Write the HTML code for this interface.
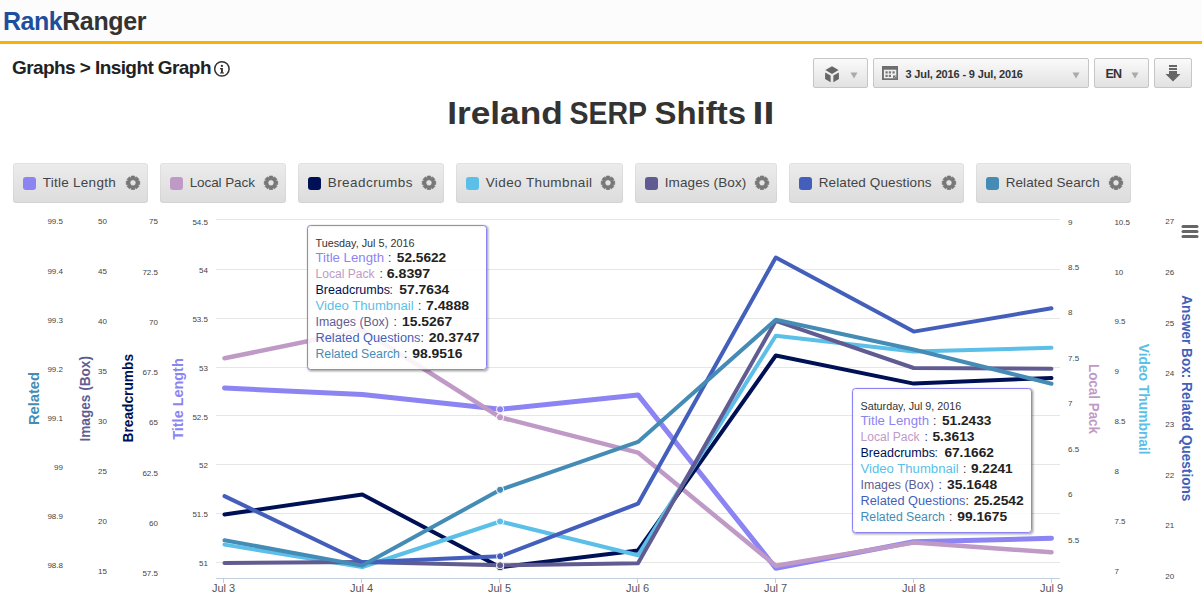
<!DOCTYPE html><html><head><meta charset="utf-8"><style>
*{box-sizing:border-box}html,body{margin:0;padding:0}
body{width:1202px;height:601px;overflow:hidden;background:#fff;position:relative;font-family:"Liberation Sans", sans-serif}
.abs{position:absolute}
.btn{position:absolute;border:1px solid #c6c6c6;border-radius:2px;background:linear-gradient(#fafafa,#e2e2e2)}
.leg{position:absolute;top:163px;height:40px;border-radius:3px;background:linear-gradient(#ececec,#dcdcdc);box-shadow:inset 0 0 0 1px rgba(0,0,0,0.04)}
.sw{position:absolute;top:13.5px;left:10px;width:13px;height:13.5px;border-radius:3px}
.lt{position:absolute;top:11px;left:29.7px;font-size:13.5px;color:#444;white-space:nowrap;line-height:18px}
</style></head><body>
<div class="abs" style="left:0;top:0;width:1202px;height:41px;background:#fcfcfc"></div>
<div class="abs" style="left:0;top:41px;width:1202px;height:3px;background:#fcb000"></div>
<div class="abs" style="left:3px;top:4px;font-size:25px;font-weight:bold;line-height:34px;white-space:nowrap"><span style="color:#1d4f9c;letter-spacing:-0.5px">Rank</span><span style="color:#333;letter-spacing:-0.35px">Ranger</span></div>
<div class="abs" style="left:12px;top:56px;font-size:19px;font-weight:bold;letter-spacing:-0.58px;color:#222;line-height:24px;white-space:nowrap">Graphs &gt; Insight Graph</div>
<svg class="abs" style="left:212px;top:59px" width="20" height="20" viewBox="0 0 20 20"><circle cx="9.9" cy="9.9" r="7.2" fill="none" stroke="#333" stroke-width="1.5"/><circle cx="9.9" cy="6.9" r="1.15" fill="#333"/><path d="M8 9.1h2.9v4.3h1.1v1.1h-4.1v-1.1h1.1v-3.2h-1z" fill="#333"/></svg>
<div class="btn" style="left:813px;top:58px;width:55px;height:30px"></div>
<div class="btn" style="left:873px;top:58px;width:216px;height:30px"></div>
<div class="btn" style="left:1094px;top:58px;width:55px;height:30px"></div>
<div class="btn" style="left:1154px;top:58px;width:38px;height:30px"></div>
<svg class="abs" style="left:824px;top:65px" width="16" height="18" viewBox="0 0 16 18"><path d="M8 1.2L14.6 5.1 8 8.9 1.4 5.1z" fill="#666"/><path d="M1.1 7.4L6.6 10.5V17.2L1.1 14.1z" fill="#666"/><path d="M14.9 7.4L9.4 10.5V17.2L14.9 14.1z" fill="#666"/></svg>
<svg class="abs" style="left:849.5px;top:71.5px" width="8" height="7" viewBox="0 0 8 7"><path d="M0.5 0.5h7l-3.5 6z" fill="#aaa"/></svg>
<svg class="abs" style="left:1071.5px;top:71.5px" width="8" height="7" viewBox="0 0 8 7"><path d="M0.5 0.5h7l-3.5 6z" fill="#aaa"/></svg>
<svg class="abs" style="left:1130.5px;top:72px" width="8" height="7" viewBox="0 0 8 7"><path d="M0.5 0.5h7l-3.5 6z" fill="#aaa"/></svg>
<svg class="abs" style="left:882px;top:66px" width="16" height="14" viewBox="0 0 16 14"><rect x="0" y="0" width="16" height="14" fill="#6e6e6e"/><rect x="1.9" y="3.7" width="12.4" height="8.6" fill="#efefef"/><g fill="#777"><rect x="3.5" y="5.3" width="2.2" height="2.2"/><rect x="6.8" y="5.3" width="2.2" height="2.2"/><rect x="10.5" y="5.3" width="2.2" height="2.2"/><rect x="3.5" y="8.8" width="2.2" height="2.2"/><rect x="6.8" y="8.8" width="2.2" height="2.2"/></g><rect x="11" y="9.5" width="3.3" height="2.8" fill="#6e6e6e"/><path d="M12.3 11.6l1.3-1.3" stroke="#eee" stroke-width="0.9"/></svg>
<div class="abs" style="left:905.5px;top:67px;font-size:11px;font-weight:bold;letter-spacing:-0.15px;color:#333;line-height:14px;white-space:nowrap">3 Jul, 2016 - 9 Jul, 2016</div>
<div class="abs" style="left:1105.5px;top:66.5px;font-size:12.5px;font-weight:bold;letter-spacing:-0.9px;color:#333;line-height:14px;white-space:nowrap">EN</div>
<svg class="abs" style="left:1165px;top:64px" width="16" height="18" viewBox="0 0 16 18"><rect x="4" y="1" width="8" height="2" fill="#666"/><rect x="4" y="4" width="8" height="2" fill="#666"/><path d="M4 7h8v3h3.5L8 17.5 0.5 10H4z" fill="#666"/></svg>
<svg class="abs" style="left:0;top:0" width="1202" height="140"><text x="447.2" y="123.7" font-size="32" font-weight="bold" fill="#333" textLength="115.6" lengthAdjust="spacingAndGlyphs" font-family='"Liberation Sans", sans-serif'>Ireland</text><text x="569.5" y="123.7" font-size="32" font-weight="bold" fill="#333" textLength="77.6" lengthAdjust="spacingAndGlyphs" font-family='"Liberation Sans", sans-serif'>SERP</text><text x="654.5" y="123.7" font-size="32" font-weight="bold" fill="#333" textLength="91.5" lengthAdjust="spacingAndGlyphs" font-family='"Liberation Sans", sans-serif'>Shifts</text><text x="752.5" y="123.7" font-size="32" font-weight="bold" fill="#333" textLength="21.8" lengthAdjust="spacingAndGlyphs" font-family='"Liberation Sans", sans-serif'>II</text></svg>
<div class="leg" style="left:13px;width:135px">
<div class="sw" style="background:#8c84f2"></div>
<div class="lt" style="letter-spacing:0.27px">Title Length</div>
<svg class="abs" style="left:110.9px;top:11px" width="18" height="18" viewBox="0 0 18 18"><path d="M13.61 6.85 L15.70 7.16 L15.70 10.44 L13.61 10.75 L13.63 10.68 L14.90 12.38 L12.58 14.70 L10.88 13.43 L10.95 13.41 L10.64 15.50 L7.36 15.50 L7.05 13.41 L7.12 13.43 L5.42 14.70 L3.10 12.38 L4.37 10.68 L4.39 10.75 L2.30 10.44 L2.30 7.16 L4.39 6.85 L4.37 6.92 L3.10 5.22 L5.42 2.90 L7.12 4.17 L7.05 4.19 L7.36 2.10 L10.64 2.10 L10.95 4.19 L10.88 4.17 L12.58 2.90 L14.90 5.22 L13.63 6.92Z M12.10 8.80 A3.1 3.1 0 1 0 5.90 8.80 A3.1 3.1 0 1 0 12.10 8.80Z" fill="#777" fill-rule="evenodd" stroke="#777" stroke-width="0.8" stroke-linejoin="round"/></svg>
</div>
<div class="leg" style="left:160px;width:126px">
<div class="sw" style="background:#c09ac6"></div>
<div class="lt" style="letter-spacing:-0.09px">Local Pack</div>
<svg class="abs" style="left:101.9px;top:11px" width="18" height="18" viewBox="0 0 18 18"><path d="M13.61 6.85 L15.70 7.16 L15.70 10.44 L13.61 10.75 L13.63 10.68 L14.90 12.38 L12.58 14.70 L10.88 13.43 L10.95 13.41 L10.64 15.50 L7.36 15.50 L7.05 13.41 L7.12 13.43 L5.42 14.70 L3.10 12.38 L4.37 10.68 L4.39 10.75 L2.30 10.44 L2.30 7.16 L4.39 6.85 L4.37 6.92 L3.10 5.22 L5.42 2.90 L7.12 4.17 L7.05 4.19 L7.36 2.10 L10.64 2.10 L10.95 4.19 L10.88 4.17 L12.58 2.90 L14.90 5.22 L13.63 6.92Z M12.10 8.80 A3.1 3.1 0 1 0 5.90 8.80 A3.1 3.1 0 1 0 12.10 8.80Z" fill="#777" fill-rule="evenodd" stroke="#777" stroke-width="0.8" stroke-linejoin="round"/></svg>
</div>
<div class="leg" style="left:298px;width:146px">
<div class="sw" style="background:#001055"></div>
<div class="lt" style="letter-spacing:0.45px">Breadcrumbs</div>
<svg class="abs" style="left:121.9px;top:11px" width="18" height="18" viewBox="0 0 18 18"><path d="M13.61 6.85 L15.70 7.16 L15.70 10.44 L13.61 10.75 L13.63 10.68 L14.90 12.38 L12.58 14.70 L10.88 13.43 L10.95 13.41 L10.64 15.50 L7.36 15.50 L7.05 13.41 L7.12 13.43 L5.42 14.70 L3.10 12.38 L4.37 10.68 L4.39 10.75 L2.30 10.44 L2.30 7.16 L4.39 6.85 L4.37 6.92 L3.10 5.22 L5.42 2.90 L7.12 4.17 L7.05 4.19 L7.36 2.10 L10.64 2.10 L10.95 4.19 L10.88 4.17 L12.58 2.90 L14.90 5.22 L13.63 6.92Z M12.10 8.80 A3.1 3.1 0 1 0 5.90 8.80 A3.1 3.1 0 1 0 12.10 8.80Z" fill="#777" fill-rule="evenodd" stroke="#777" stroke-width="0.8" stroke-linejoin="round"/></svg>
</div>
<div class="leg" style="left:456px;width:167px">
<div class="sw" style="background:#5bbfe8"></div>
<div class="lt" style="letter-spacing:0.4px">Video Thumbnail</div>
<svg class="abs" style="left:142.9px;top:11px" width="18" height="18" viewBox="0 0 18 18"><path d="M13.61 6.85 L15.70 7.16 L15.70 10.44 L13.61 10.75 L13.63 10.68 L14.90 12.38 L12.58 14.70 L10.88 13.43 L10.95 13.41 L10.64 15.50 L7.36 15.50 L7.05 13.41 L7.12 13.43 L5.42 14.70 L3.10 12.38 L4.37 10.68 L4.39 10.75 L2.30 10.44 L2.30 7.16 L4.39 6.85 L4.37 6.92 L3.10 5.22 L5.42 2.90 L7.12 4.17 L7.05 4.19 L7.36 2.10 L10.64 2.10 L10.95 4.19 L10.88 4.17 L12.58 2.90 L14.90 5.22 L13.63 6.92Z M12.10 8.80 A3.1 3.1 0 1 0 5.90 8.80 A3.1 3.1 0 1 0 12.10 8.80Z" fill="#777" fill-rule="evenodd" stroke="#777" stroke-width="0.8" stroke-linejoin="round"/></svg>
</div>
<div class="leg" style="left:635px;width:142px">
<div class="sw" style="background:#605c92"></div>
<div class="lt" style="letter-spacing:0.12px">Images (Box)</div>
<svg class="abs" style="left:117.9px;top:11px" width="18" height="18" viewBox="0 0 18 18"><path d="M13.61 6.85 L15.70 7.16 L15.70 10.44 L13.61 10.75 L13.63 10.68 L14.90 12.38 L12.58 14.70 L10.88 13.43 L10.95 13.41 L10.64 15.50 L7.36 15.50 L7.05 13.41 L7.12 13.43 L5.42 14.70 L3.10 12.38 L4.37 10.68 L4.39 10.75 L2.30 10.44 L2.30 7.16 L4.39 6.85 L4.37 6.92 L3.10 5.22 L5.42 2.90 L7.12 4.17 L7.05 4.19 L7.36 2.10 L10.64 2.10 L10.95 4.19 L10.88 4.17 L12.58 2.90 L14.90 5.22 L13.63 6.92Z M12.10 8.80 A3.1 3.1 0 1 0 5.90 8.80 A3.1 3.1 0 1 0 12.10 8.80Z" fill="#777" fill-rule="evenodd" stroke="#777" stroke-width="0.8" stroke-linejoin="round"/></svg>
</div>
<div class="leg" style="left:789px;width:175px">
<div class="sw" style="background:#435fbb"></div>
<div class="lt" style="letter-spacing:0.11px">Related Questions</div>
<svg class="abs" style="left:150.9px;top:11px" width="18" height="18" viewBox="0 0 18 18"><path d="M13.61 6.85 L15.70 7.16 L15.70 10.44 L13.61 10.75 L13.63 10.68 L14.90 12.38 L12.58 14.70 L10.88 13.43 L10.95 13.41 L10.64 15.50 L7.36 15.50 L7.05 13.41 L7.12 13.43 L5.42 14.70 L3.10 12.38 L4.37 10.68 L4.39 10.75 L2.30 10.44 L2.30 7.16 L4.39 6.85 L4.37 6.92 L3.10 5.22 L5.42 2.90 L7.12 4.17 L7.05 4.19 L7.36 2.10 L10.64 2.10 L10.95 4.19 L10.88 4.17 L12.58 2.90 L14.90 5.22 L13.63 6.92Z M12.10 8.80 A3.1 3.1 0 1 0 5.90 8.80 A3.1 3.1 0 1 0 12.10 8.80Z" fill="#777" fill-rule="evenodd" stroke="#777" stroke-width="0.8" stroke-linejoin="round"/></svg>
</div>
<div class="leg" style="left:976px;width:155px">
<div class="sw" style="background:#448cb5"></div>
<div class="lt" style="letter-spacing:0.07px">Related Search</div>
<svg class="abs" style="left:130.9px;top:11px" width="18" height="18" viewBox="0 0 18 18"><path d="M13.61 6.85 L15.70 7.16 L15.70 10.44 L13.61 10.75 L13.63 10.68 L14.90 12.38 L12.58 14.70 L10.88 13.43 L10.95 13.41 L10.64 15.50 L7.36 15.50 L7.05 13.41 L7.12 13.43 L5.42 14.70 L3.10 12.38 L4.37 10.68 L4.39 10.75 L2.30 10.44 L2.30 7.16 L4.39 6.85 L4.37 6.92 L3.10 5.22 L5.42 2.90 L7.12 4.17 L7.05 4.19 L7.36 2.10 L10.64 2.10 L10.95 4.19 L10.88 4.17 L12.58 2.90 L14.90 5.22 L13.63 6.92Z M12.10 8.80 A3.1 3.1 0 1 0 5.90 8.80 A3.1 3.1 0 1 0 12.10 8.80Z" fill="#777" fill-rule="evenodd" stroke="#777" stroke-width="0.8" stroke-linejoin="round"/></svg>
</div>
<svg class="abs" style="left:0;top:0" width="1202" height="601" viewBox="0 0 1202 601"><rect x="216" y="219" width="844" height="1" fill="#e6e6e6"/><rect x="216" y="269" width="844" height="1" fill="#e6e6e6"/><rect x="216" y="318" width="844" height="1" fill="#e6e6e6"/><rect x="216" y="367" width="844" height="1" fill="#e6e6e6"/><rect x="216" y="415" width="844" height="1" fill="#e6e6e6"/><rect x="216" y="464" width="844" height="1" fill="#e6e6e6"/><rect x="216" y="513" width="844" height="1" fill="#e6e6e6"/><rect x="216" y="562" width="844" height="1" fill="#e6e6e6"/><rect x="216" y="578" width="844" height="1" fill="#c0d0e0"/><rect x="223" y="578" width="1" height="5" fill="#c0d0e0"/><text x="223.5" y="592.3" font-size="11" fill="#555" text-anchor="middle" font-family='"Liberation Sans", sans-serif'>Jul 3</text><rect x="361" y="578" width="1" height="5" fill="#c0d0e0"/><text x="361.5" y="592.3" font-size="11" fill="#555" text-anchor="middle" font-family='"Liberation Sans", sans-serif'>Jul 4</text><rect x="499" y="578" width="1" height="5" fill="#c0d0e0"/><text x="499.5" y="592.3" font-size="11" fill="#555" text-anchor="middle" font-family='"Liberation Sans", sans-serif'>Jul 5</text><rect x="637" y="578" width="1" height="5" fill="#c0d0e0"/><text x="637.5" y="592.3" font-size="11" fill="#555" text-anchor="middle" font-family='"Liberation Sans", sans-serif'>Jul 6</text><rect x="775" y="578" width="1" height="5" fill="#c0d0e0"/><text x="775.5" y="592.3" font-size="11" fill="#555" text-anchor="middle" font-family='"Liberation Sans", sans-serif'>Jul 7</text><rect x="913" y="578" width="1" height="5" fill="#c0d0e0"/><text x="913.5" y="592.3" font-size="11" fill="#555" text-anchor="middle" font-family='"Liberation Sans", sans-serif'>Jul 8</text><rect x="1051" y="578" width="1" height="5" fill="#c0d0e0"/><text x="1051.5" y="592.3" font-size="11" fill="#555" text-anchor="middle" font-family='"Liberation Sans", sans-serif'>Jul 9</text><text x="63" y="224.4" font-size="8" fill="#444" text-anchor="end" font-family='"Liberation Sans", sans-serif'>99.5</text><text x="63" y="273.5" font-size="8" fill="#444" text-anchor="end" font-family='"Liberation Sans", sans-serif'>99.4</text><text x="63" y="322.6" font-size="8" fill="#444" text-anchor="end" font-family='"Liberation Sans", sans-serif'>99.3</text><text x="63" y="371.7" font-size="8" fill="#444" text-anchor="end" font-family='"Liberation Sans", sans-serif'>99.2</text><text x="63" y="420.7" font-size="8" fill="#444" text-anchor="end" font-family='"Liberation Sans", sans-serif'>99.1</text><text x="63" y="469.8" font-size="8" fill="#444" text-anchor="end" font-family='"Liberation Sans", sans-serif'>99</text><text x="63" y="518.9" font-size="8" fill="#444" text-anchor="end" font-family='"Liberation Sans", sans-serif'>98.9</text><text x="63" y="568.0" font-size="8" fill="#444" text-anchor="end" font-family='"Liberation Sans", sans-serif'>98.8</text><text x="107" y="224.4" font-size="8" fill="#444" text-anchor="end" font-family='"Liberation Sans", sans-serif'>50</text><text x="107" y="274.3" font-size="8" fill="#444" text-anchor="end" font-family='"Liberation Sans", sans-serif'>45</text><text x="107" y="324.3" font-size="8" fill="#444" text-anchor="end" font-family='"Liberation Sans", sans-serif'>40</text><text x="107" y="374.2" font-size="8" fill="#444" text-anchor="end" font-family='"Liberation Sans", sans-serif'>35</text><text x="107" y="424.2" font-size="8" fill="#444" text-anchor="end" font-family='"Liberation Sans", sans-serif'>30</text><text x="107" y="474.1" font-size="8" fill="#444" text-anchor="end" font-family='"Liberation Sans", sans-serif'>25</text><text x="107" y="524.1" font-size="8" fill="#444" text-anchor="end" font-family='"Liberation Sans", sans-serif'>20</text><text x="107" y="574.0" font-size="8" fill="#444" text-anchor="end" font-family='"Liberation Sans", sans-serif'>15</text><text x="158" y="224.4" font-size="8" fill="#444" text-anchor="end" font-family='"Liberation Sans", sans-serif'>75</text><text x="158" y="274.6" font-size="8" fill="#444" text-anchor="end" font-family='"Liberation Sans", sans-serif'>72.5</text><text x="158" y="324.9" font-size="8" fill="#444" text-anchor="end" font-family='"Liberation Sans", sans-serif'>70</text><text x="158" y="375.1" font-size="8" fill="#444" text-anchor="end" font-family='"Liberation Sans", sans-serif'>67.5</text><text x="158" y="425.3" font-size="8" fill="#444" text-anchor="end" font-family='"Liberation Sans", sans-serif'>65</text><text x="158" y="475.5" font-size="8" fill="#444" text-anchor="end" font-family='"Liberation Sans", sans-serif'>62.5</text><text x="158" y="525.8" font-size="8" fill="#444" text-anchor="end" font-family='"Liberation Sans", sans-serif'>60</text><text x="158" y="576.0" font-size="8" fill="#444" text-anchor="end" font-family='"Liberation Sans", sans-serif'>57.5</text><text x="208" y="224.5" font-size="8" fill="#444" text-anchor="end" font-family='"Liberation Sans", sans-serif'>54.5</text><text x="208" y="273.3" font-size="8" fill="#444" text-anchor="end" font-family='"Liberation Sans", sans-serif'>54</text><text x="208" y="322.1" font-size="8" fill="#444" text-anchor="end" font-family='"Liberation Sans", sans-serif'>53.5</text><text x="208" y="370.9" font-size="8" fill="#444" text-anchor="end" font-family='"Liberation Sans", sans-serif'>53</text><text x="208" y="419.6" font-size="8" fill="#444" text-anchor="end" font-family='"Liberation Sans", sans-serif'>52.5</text><text x="208" y="468.4" font-size="8" fill="#444" text-anchor="end" font-family='"Liberation Sans", sans-serif'>52</text><text x="208" y="517.2" font-size="8" fill="#444" text-anchor="end" font-family='"Liberation Sans", sans-serif'>51.5</text><text x="208" y="566.0" font-size="8" fill="#444" text-anchor="end" font-family='"Liberation Sans", sans-serif'>51</text><text x="1068" y="224.5" font-size="8" fill="#444" text-anchor="start" font-family='"Liberation Sans", sans-serif'>9</text><text x="1068" y="270.0" font-size="8" fill="#444" text-anchor="start" font-family='"Liberation Sans", sans-serif'>8.5</text><text x="1068" y="315.4" font-size="8" fill="#444" text-anchor="start" font-family='"Liberation Sans", sans-serif'>8</text><text x="1068" y="360.9" font-size="8" fill="#444" text-anchor="start" font-family='"Liberation Sans", sans-serif'>7.5</text><text x="1068" y="406.4" font-size="8" fill="#444" text-anchor="start" font-family='"Liberation Sans", sans-serif'>7</text><text x="1068" y="451.9" font-size="8" fill="#444" text-anchor="start" font-family='"Liberation Sans", sans-serif'>6.5</text><text x="1068" y="497.3" font-size="8" fill="#444" text-anchor="start" font-family='"Liberation Sans", sans-serif'>6</text><text x="1068" y="542.8" font-size="8" fill="#444" text-anchor="start" font-family='"Liberation Sans", sans-serif'>5.5</text><text x="1114.4" y="224.5" font-size="8" fill="#444" text-anchor="start" font-family='"Liberation Sans", sans-serif'>10.5</text><text x="1114.4" y="274.5" font-size="8" fill="#444" text-anchor="start" font-family='"Liberation Sans", sans-serif'>10</text><text x="1114.4" y="324.4" font-size="8" fill="#444" text-anchor="start" font-family='"Liberation Sans", sans-serif'>9.5</text><text x="1114.4" y="374.4" font-size="8" fill="#444" text-anchor="start" font-family='"Liberation Sans", sans-serif'>9</text><text x="1114.4" y="424.4" font-size="8" fill="#444" text-anchor="start" font-family='"Liberation Sans", sans-serif'>8.5</text><text x="1114.4" y="474.4" font-size="8" fill="#444" text-anchor="start" font-family='"Liberation Sans", sans-serif'>8</text><text x="1114.4" y="524.3" font-size="8" fill="#444" text-anchor="start" font-family='"Liberation Sans", sans-serif'>7.5</text><text x="1114.4" y="574.3" font-size="8" fill="#444" text-anchor="start" font-family='"Liberation Sans", sans-serif'>7</text><text x="1165.3" y="224.2" font-size="8" fill="#444" text-anchor="start" font-family='"Liberation Sans", sans-serif'>27</text><text x="1165.3" y="274.9" font-size="8" fill="#444" text-anchor="start" font-family='"Liberation Sans", sans-serif'>26</text><text x="1165.3" y="325.6" font-size="8" fill="#444" text-anchor="start" font-family='"Liberation Sans", sans-serif'>25</text><text x="1165.3" y="376.3" font-size="8" fill="#444" text-anchor="start" font-family='"Liberation Sans", sans-serif'>24</text><text x="1165.3" y="426.9" font-size="8" fill="#444" text-anchor="start" font-family='"Liberation Sans", sans-serif'>23</text><text x="1165.3" y="477.6" font-size="8" fill="#444" text-anchor="start" font-family='"Liberation Sans", sans-serif'>22</text><text x="1165.3" y="528.3" font-size="8" fill="#444" text-anchor="start" font-family='"Liberation Sans", sans-serif'>21</text><text x="1165.3" y="579.0" font-size="8" fill="#444" text-anchor="start" font-family='"Liberation Sans", sans-serif'>20</text><text x="0" y="0" transform="translate(38.5 398.6) rotate(-90)" font-size="14" font-weight="bold" fill="#448cb5" text-anchor="middle" textLength="53" lengthAdjust="spacingAndGlyphs" font-family='"Liberation Sans", sans-serif'>Related</text><text x="0" y="0" transform="translate(89.5 398.8) rotate(-90)" font-size="14" font-weight="bold" fill="#605c92" text-anchor="middle" textLength="85.5" lengthAdjust="spacingAndGlyphs" font-family='"Liberation Sans", sans-serif'>Images (Box)</text><text x="0" y="0" transform="translate(133 398.2) rotate(-90)" font-size="14" font-weight="bold" fill="#001055" text-anchor="middle" textLength="88.5" lengthAdjust="spacingAndGlyphs" font-family='"Liberation Sans", sans-serif'>Breadcrumbs</text><text x="0" y="0" transform="translate(183 399) rotate(-90)" font-size="14" font-weight="bold" fill="#8c84f2" text-anchor="middle" textLength="81.5" lengthAdjust="spacingAndGlyphs" font-family='"Liberation Sans", sans-serif'>Title Length</text><text x="0" y="0" transform="translate(1088.5 399) rotate(90)" font-size="14" font-weight="bold" fill="#c09ac6" text-anchor="middle" textLength="70" lengthAdjust="spacingAndGlyphs" font-family='"Liberation Sans", sans-serif'>Local Pack</text><text x="0" y="0" transform="translate(1139.2 399.2) rotate(90)" font-size="14" font-weight="bold" fill="#5bbfe8" text-anchor="middle" textLength="111" lengthAdjust="spacingAndGlyphs" font-family='"Liberation Sans", sans-serif'>Video Thumbnail</text><text x="0" y="0" transform="translate(1182 398.3) rotate(90)" font-size="14" font-weight="bold" fill="#435fbb" text-anchor="middle" textLength="206" lengthAdjust="spacingAndGlyphs" font-family='"Liberation Sans", sans-serif'>Answer Box: Related Questions</text><polyline points="224.5,388.0 362.3,394.5 500.2,409.3 638.0,394.9 775.8,568.2 913.7,541.8 1051.5,538.3" fill="none" stroke="#8c84f2" stroke-width="5" stroke-linejoin="round" stroke-linecap="round"/><polyline points="224.5,358.3 362.3,330.0 500.2,417.3 638.0,452.6 775.8,565.7 913.7,542.6 1051.5,552.3" fill="none" stroke="#c09ac6" stroke-width="4.5" stroke-linejoin="round" stroke-linecap="round"/><polyline points="224.5,514.4 362.3,494.6 500.2,567.2 638.0,550.5 775.8,355.5 913.7,383.6 1051.5,377.9" fill="none" stroke="#001055" stroke-width="4" stroke-linejoin="round" stroke-linecap="round"/><polyline points="224.5,544.6 362.3,567.0 500.2,521.5 638.0,555.3 775.8,335.7 913.7,351.5 1051.5,347.8" fill="none" stroke="#5bbfe8" stroke-width="4" stroke-linejoin="round" stroke-linecap="round"/><polyline points="224.5,562.9 362.3,562.0 500.2,565.3 638.0,563.3 775.8,320.8 913.7,368.0 1051.5,368.8" fill="none" stroke="#605c92" stroke-width="4" stroke-linejoin="round" stroke-linecap="round"/><polyline points="224.5,496.1 362.3,562.3 500.2,556.3 638.0,503.7 775.8,257.5 913.7,331.6 1051.5,308.3" fill="none" stroke="#435fbb" stroke-width="4" stroke-linejoin="round" stroke-linecap="round"/><polyline points="224.5,540.2 362.3,565.6 500.2,489.8 638.0,441.9 775.8,319.8 913.7,349.5 1051.5,383.7" fill="none" stroke="#448cb5" stroke-width="4" stroke-linejoin="round" stroke-linecap="round"/><circle cx="500.1" cy="409.3" r="3.6" fill="#8c84f2" stroke="#fff" stroke-width="1"/><circle cx="500.1" cy="417.3" r="3.6" fill="#c09ac6" stroke="#fff" stroke-width="1"/><circle cx="500.1" cy="567.2" r="3.6" fill="#001055" stroke="#fff" stroke-width="1"/><circle cx="500.1" cy="521.5" r="3.6" fill="#5bbfe8" stroke="#fff" stroke-width="1"/><circle cx="500.1" cy="565.3" r="3.6" fill="#605c92" stroke="#fff" stroke-width="1"/><circle cx="500.1" cy="556.3" r="3.6" fill="#435fbb" stroke="#fff" stroke-width="1"/><circle cx="500.1" cy="489.8" r="3.6" fill="#448cb5" stroke="#fff" stroke-width="1"/><line x1="1183" y1="226.5" x2="1197" y2="226.5" stroke="#666" stroke-width="3" stroke-linecap="round"/><line x1="1183" y1="231.5" x2="1197" y2="231.5" stroke="#666" stroke-width="3" stroke-linecap="round"/><line x1="1183" y1="236.5" x2="1197" y2="236.5" stroke="#666" stroke-width="3" stroke-linecap="round"/></svg>
<svg class="abs" style="left:0;top:0" width="1202" height="601"><rect x="308.5" y="226.5" width="179" height="144" rx="3" fill="none" stroke="#000" stroke-opacity="0.05" stroke-width="5"/><rect x="308.5" y="226.5" width="179" height="144" rx="3" fill="none" stroke="#000" stroke-opacity="0.1" stroke-width="3"/><rect x="308.5" y="226.5" width="179" height="144" rx="3" fill="none" stroke="#000" stroke-opacity="0.15" stroke-width="1"/><rect x="307.5" y="225.5" width="179" height="144" rx="3" fill="rgba(255,255,255,0.88)" stroke="#8c84f2" stroke-width="1"/><g transform="translate(307.5 225.5)"><text x="8" y="21" font-size="10" fill="#333" textLength="99" lengthAdjust="spacingAndGlyphs" font-family='"Liberation Sans", sans-serif'>Tuesday, Jul 5, 2016</text><text x="8" y="36.2" font-size="12" fill="#8c84f2" textLength="68.5" lengthAdjust="spacingAndGlyphs" font-family='"Liberation Sans", sans-serif'>Title Length</text><text x="80.5" y="36.2" font-size="12" fill="#333" font-family='"Liberation Sans", sans-serif'>:</text><text x="89.3" y="36.2" font-size="12.5" font-weight="bold" fill="#222" textLength="49.4" lengthAdjust="spacingAndGlyphs" font-family='"Liberation Sans", sans-serif'>52.5622</text><text x="8" y="52.2" font-size="12" fill="#c09ac6" textLength="59.1" lengthAdjust="spacingAndGlyphs" font-family='"Liberation Sans", sans-serif'>Local Pack</text><text x="72" y="52.2" font-size="12" fill="#333" font-family='"Liberation Sans", sans-serif'>:</text><text x="79.2" y="52.2" font-size="12.5" font-weight="bold" fill="#222" textLength="43.4" lengthAdjust="spacingAndGlyphs" font-family='"Liberation Sans", sans-serif'>6.8397</text><text x="8" y="68.2" font-size="12" fill="#001055" textLength="74.5" lengthAdjust="spacingAndGlyphs" font-family='"Liberation Sans", sans-serif'>Breadcrumbs</text><text x="82" y="68.2" font-size="12" fill="#333" font-family='"Liberation Sans", sans-serif'>:</text><text x="91.8" y="68.2" font-size="12.5" font-weight="bold" fill="#222" textLength="50" lengthAdjust="spacingAndGlyphs" font-family='"Liberation Sans", sans-serif'>57.7634</text><text x="8" y="84.2" font-size="12" fill="#5bbfe8" textLength="98.1" lengthAdjust="spacingAndGlyphs" font-family='"Liberation Sans", sans-serif'>Video Thumbnail</text><text x="110.5" y="84.2" font-size="12" fill="#333" font-family='"Liberation Sans", sans-serif'>:</text><text x="118.5" y="84.2" font-size="12.5" font-weight="bold" fill="#222" textLength="43.1" lengthAdjust="spacingAndGlyphs" font-family='"Liberation Sans", sans-serif'>7.4888</text><text x="8" y="100.2" font-size="12" fill="#605c92" textLength="73.4" lengthAdjust="spacingAndGlyphs" font-family='"Liberation Sans", sans-serif'>Images (Box)</text><text x="86" y="100.2" font-size="12" fill="#333" font-family='"Liberation Sans", sans-serif'>:</text><text x="94.5" y="100.2" font-size="12.5" font-weight="bold" fill="#222" textLength="50.1" lengthAdjust="spacingAndGlyphs" font-family='"Liberation Sans", sans-serif'>15.5267</text><text x="8" y="116.2" font-size="12" fill="#435fbb" textLength="105" lengthAdjust="spacingAndGlyphs" font-family='"Liberation Sans", sans-serif'>Related Questions</text><text x="113" y="116.2" font-size="12" fill="#333" font-family='"Liberation Sans", sans-serif'>:</text><text x="121.2" y="116.2" font-size="12.5" font-weight="bold" fill="#222" textLength="50.9" lengthAdjust="spacingAndGlyphs" font-family='"Liberation Sans", sans-serif'>20.3747</text><text x="8" y="132.2" font-size="12" fill="#448cb5" textLength="84.4" lengthAdjust="spacingAndGlyphs" font-family='"Liberation Sans", sans-serif'>Related Search</text><text x="96.5" y="132.2" font-size="12" fill="#333" font-family='"Liberation Sans", sans-serif'>:</text><text x="104.8" y="132.2" font-size="12.5" font-weight="bold" fill="#222" textLength="50.2" lengthAdjust="spacingAndGlyphs" font-family='"Liberation Sans", sans-serif'>98.9516</text></g></svg>
<svg class="abs" style="left:0;top:0" width="1202" height="601"><rect x="853.5" y="389.5" width="179" height="144" rx="3" fill="none" stroke="#000" stroke-opacity="0.05" stroke-width="5"/><rect x="853.5" y="389.5" width="179" height="144" rx="3" fill="none" stroke="#000" stroke-opacity="0.1" stroke-width="3"/><rect x="853.5" y="389.5" width="179" height="144" rx="3" fill="none" stroke="#000" stroke-opacity="0.15" stroke-width="1"/><rect x="852.5" y="388.5" width="179" height="144" rx="3" fill="rgba(255,255,255,0.88)" stroke="#8c84f2" stroke-width="1"/><g transform="translate(852.5 388.5)"><text x="8" y="21" font-size="10" fill="#333" textLength="100.7" lengthAdjust="spacingAndGlyphs" font-family='"Liberation Sans", sans-serif'>Saturday, Jul 9, 2016</text><text x="8" y="36.2" font-size="12" fill="#8c84f2" textLength="68.5" lengthAdjust="spacingAndGlyphs" font-family='"Liberation Sans", sans-serif'>Title Length</text><text x="80.5" y="36.2" font-size="12" fill="#333" font-family='"Liberation Sans", sans-serif'>:</text><text x="89.5" y="36.2" font-size="12.5" font-weight="bold" fill="#222" textLength="49.3" lengthAdjust="spacingAndGlyphs" font-family='"Liberation Sans", sans-serif'>51.2433</text><text x="8" y="52.2" font-size="12" fill="#c09ac6" textLength="59.1" lengthAdjust="spacingAndGlyphs" font-family='"Liberation Sans", sans-serif'>Local Pack</text><text x="72" y="52.2" font-size="12" fill="#333" font-family='"Liberation Sans", sans-serif'>:</text><text x="79.9" y="52.2" font-size="12.5" font-weight="bold" fill="#222" textLength="42.1" lengthAdjust="spacingAndGlyphs" font-family='"Liberation Sans", sans-serif'>5.3613</text><text x="8" y="68.2" font-size="12" fill="#001055" textLength="74.5" lengthAdjust="spacingAndGlyphs" font-family='"Liberation Sans", sans-serif'>Breadcrumbs</text><text x="82" y="68.2" font-size="12" fill="#333" font-family='"Liberation Sans", sans-serif'>:</text><text x="91.9" y="68.2" font-size="12.5" font-weight="bold" fill="#222" textLength="49.5" lengthAdjust="spacingAndGlyphs" font-family='"Liberation Sans", sans-serif'>67.1662</text><text x="8" y="84.2" font-size="12" fill="#5bbfe8" textLength="98.1" lengthAdjust="spacingAndGlyphs" font-family='"Liberation Sans", sans-serif'>Video Thumbnail</text><text x="110.5" y="84.2" font-size="12" fill="#333" font-family='"Liberation Sans", sans-serif'>:</text><text x="118.5" y="84.2" font-size="12.5" font-weight="bold" fill="#222" textLength="41.6" lengthAdjust="spacingAndGlyphs" font-family='"Liberation Sans", sans-serif'>9.2241</text><text x="8" y="100.2" font-size="12" fill="#605c92" textLength="73.4" lengthAdjust="spacingAndGlyphs" font-family='"Liberation Sans", sans-serif'>Images (Box)</text><text x="86" y="100.2" font-size="12" fill="#333" font-family='"Liberation Sans", sans-serif'>:</text><text x="94.5" y="100.2" font-size="12.5" font-weight="bold" fill="#222" textLength="50.1" lengthAdjust="spacingAndGlyphs" font-family='"Liberation Sans", sans-serif'>35.1648</text><text x="8" y="116.2" font-size="12" fill="#435fbb" textLength="105" lengthAdjust="spacingAndGlyphs" font-family='"Liberation Sans", sans-serif'>Related Questions</text><text x="113" y="116.2" font-size="12" fill="#333" font-family='"Liberation Sans", sans-serif'>:</text><text x="121.2" y="116.2" font-size="12.5" font-weight="bold" fill="#222" textLength="50.1" lengthAdjust="spacingAndGlyphs" font-family='"Liberation Sans", sans-serif'>25.2542</text><text x="8" y="132.2" font-size="12" fill="#448cb5" textLength="84.4" lengthAdjust="spacingAndGlyphs" font-family='"Liberation Sans", sans-serif'>Related Search</text><text x="96.5" y="132.2" font-size="12" fill="#333" font-family='"Liberation Sans", sans-serif'>:</text><text x="104.7" y="132.2" font-size="12.5" font-weight="bold" fill="#222" textLength="50" lengthAdjust="spacingAndGlyphs" font-family='"Liberation Sans", sans-serif'>99.1675</text></g></svg>
</body></html>
